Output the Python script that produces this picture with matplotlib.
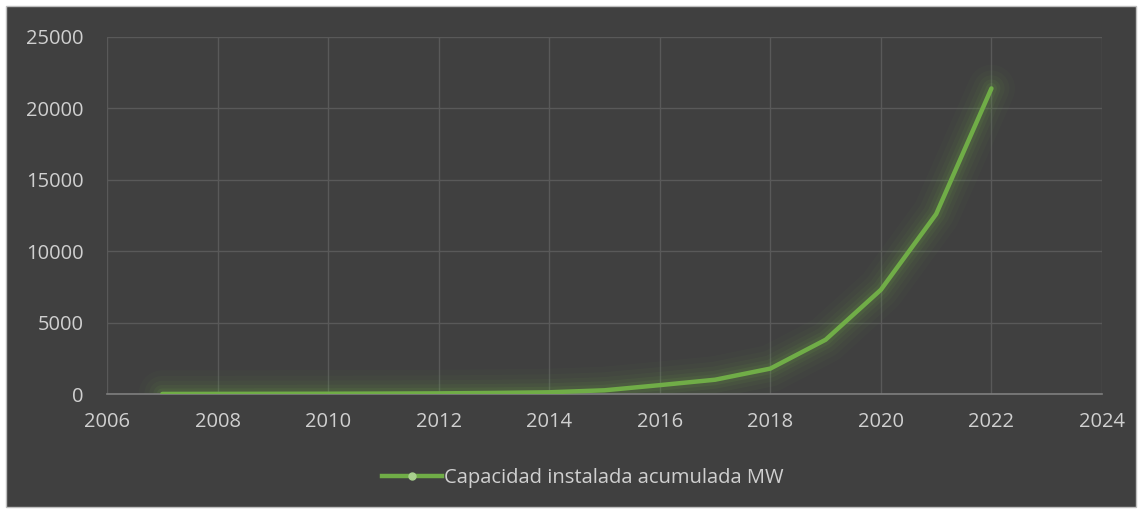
import numpy as np
import matplotlib.pyplot as plt
from matplotlib.patches import Rectangle

# datos
years = [2007, 2008, 2009, 2010, 2011, 2012, 2013, 2014, 2015, 2016, 2017, 2018, 2019, 2020, 2021, 2022]
capacidad = [5, 10, 15, 20, 30, 45, 75, 120, 260, 620, 1000, 1780, 3800, 7300, 12600, 21400]
serie_label = 'Capacidad instalada acumulada MW'

bg = '#404040'
verde = '#70ad47'
texto = '#d0d0d0'

plt.rcParams['font.family'] = ['Open Sans', 'DejaVu Sans']

fig = plt.figure(figsize=(11.42, 5.13), dpi=100, facecolor='white')
fondo = Rectangle((6/1142, 6/513), 1130/1142, 501/513, transform=fig.transFigure,
                  facecolor=bg, edgecolor='#bfbfbf', lw=1, zorder=-10)
fig.patches.append(fondo)

ax = fig.add_axes([107/1142, 1-394/513, (1102-107)/1142, (394-37)/513])
ax.set_zorder(2)
ax.set_facecolor(bg)

# brillo alrededor de la linea
for lw, a in [(34, 0.035), (26, 0.045), (19, 0.06), (13, 0.08), (8, 0.1)]:
    ax.plot(years, capacidad, color=verde, lw=lw, alpha=a, solid_capstyle='round',
            solid_joinstyle='round', zorder=2)
ax.plot(years, capacidad, color=verde, lw=3.2, solid_capstyle='round', zorder=3)

# linea para la leyenda
ax.plot([], [], color=verde, lw=3.2, marker='o', markersize=5,
        markerfacecolor='#a9d18e', markeredgecolor='#a9d18e', label=serie_label)

ax.set_xlim(2006, 2024)
ax.set_ylim(0, 25000)
ax.set_xticks(np.arange(2006, 2025, 2))
ax.set_yticks(np.arange(0, 25001, 5000))
ax.grid(True, color='#595959', lw=1)
ax.set_axisbelow(True)
for s in ['top', 'right', 'left']:
    ax.spines[s].set_visible(False)
ax.spines['bottom'].set_color('#7f7f7f')
ax.spines['bottom'].set_linewidth(1.2)
ax.tick_params(colors=texto, labelsize=14.5, length=0)
ax.tick_params(axis='x', pad=13)
ax.tick_params(axis='y', pad=17)

leg = fig.legend(loc='center', bbox_to_anchor=(583/1142, 1-478/513), frameon=False,
                 fontsize=14.5, labelcolor=texto, handlelength=3.0, handletextpad=0.1)
leg.set_zorder(5)

fig.savefig('out.png', dpi=100, facecolor='white')
